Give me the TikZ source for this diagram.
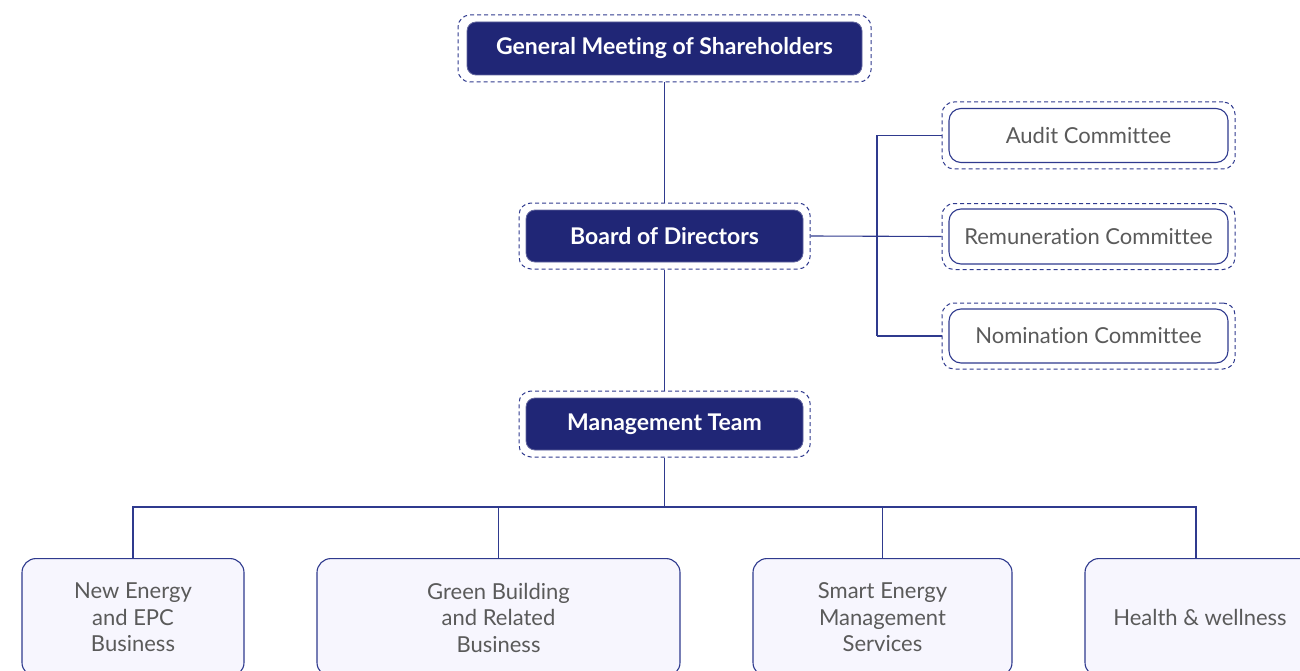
\documentclass[tikz,border=0pt]{standalone}
\usepackage{fontspec}
\setmainfont[Ligatures=NoCommon]{Lato}
\definecolor{navy}{HTML}{202676}
\definecolor{edge}{HTML}{2F3A8E}
\definecolor{txtgray}{HTML}{5A5A5A}
\definecolor{lightfill}{HTML}{F7F6FE}
\newcommand{\dn}[1]{\raisebox{-1.5pt}{#1}}
\begin{document}
\begin{tikzpicture}[x=1pt,y=-1pt,
  darkbox/.style={draw=navy!70!white, line width=0.8pt, fill=navy, rounded corners=9pt, text=white, font=\fontsize{23}{27}\selectfont\bfseries, minimum height=53pt, inner sep=0pt},
  halo/.style={draw=edge, dashed, dash pattern=on 4pt off 3pt, line width=1pt, rounded corners=12pt, inner sep=0pt, fill=none},
  combox/.style={draw=edge, line width=1.1pt, fill=white, rounded corners=12pt, text=txtgray, font=\fontsize{22}{26}\selectfont, minimum width=279pt, minimum height=54pt, inner sep=0pt},
  bizbox/.style={draw=edge, line width=1.1pt, fill=lightfill, rounded corners=14pt, text=txtgray, font=\fontsize{22}{26.5}\selectfont, align=center, minimum height=118pt, inner sep=0pt, anchor=north},
  link/.style={draw=edge, line width=1.1pt}
]
\useasboundingbox (0,0) rectangle (1300,671);
\clip (0,0) rectangle (1300,671);

% top-level nodes
\node[halo, minimum width=413pt, minimum height=67pt] (gmsh) at (664.5,48.5) {};
\node[darkbox, minimum width=395pt] (gms) at (664.5,48.5) {\dn{General Meeting of Shareholders}};
\node[halo, minimum width=291pt, minimum height=66pt] (bodh) at (664.5,236) {};
\node[darkbox, minimum width=277pt, minimum height=52pt] (bod) at (664.5,236) {\dn{Board of Directors}};
\node[halo, minimum width=291pt, minimum height=66pt] (mgth) at (664.5,424) {};
\node[darkbox, minimum width=277pt, minimum height=52pt] (mgt) at (664.5,424) {\dn{Management Team}};

% committees
\node[halo, minimum width=293pt, minimum height=67pt] (audh) at (1088.5,135.5) {};
\node[combox] (aud) at (1088.5,135.5) {Audit Committee};
\node[halo, minimum width=293pt, minimum height=66pt] (remh) at (1088.5,236.5) {};
\node[combox, minimum height=55pt] (rem) at (1088.5,236.5) {Remuneration Committee};
\node[halo, minimum width=293pt, minimum height=66pt] (nomh) at (1088.5,336) {};
\node[combox] (nom) at (1088.5,336) {Nomination Committee};

% business units
\node[bizbox, minimum width=222pt] (b1) at (133,558) {New Energy\\and EPC\\Business};
\node[bizbox, minimum width=363pt] (b2) at (498.5,558) {Green Building\\and Related\\Business};
\node[bizbox, minimum width=259pt] (b3) at (882.5,558) {Smart Energy\\Management\\Services};
\node[bizbox, minimum width=230pt] (b4) at (1200,558) {Health \& wellness};

% connectors
\coordinate (busT) at (877,135.5);
\coordinate (busB) at (877,336);
\coordinate (hub) at (664.5,507);
\coordinate (bL) at (133,507);
\coordinate (bR) at (1196,507);
\coordinate (b4top) at (1196,558);
\draw[link] (gmsh.south) -- (bodh.north);
\draw[link] (bodh.south) -- (mgth.north);
\draw[link] (bodh.east) -- (remh.west);
\draw[link] (busT) -- (busB);
\draw[link] (busT) -- (audh.west);
\draw[link] (busB) -- (nomh.west);
\draw[link] (mgth.south) -- (hub);
\draw[link] (b1.north) -- (bL) -- (bR) -- (b4top);
\draw[link] (b2.north) -- (b2.north |- hub);
\draw[link] (b3.north) -- (b3.north |- hub);
\end{tikzpicture}
\end{document}
